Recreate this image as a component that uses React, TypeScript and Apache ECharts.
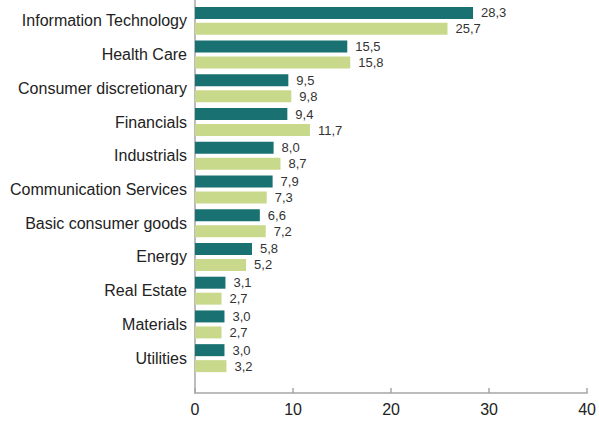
import React, { useEffect, useRef } from "react";
import * as echarts from "echarts";

const categories = [
  "Information Technology",
  "Health Care",
  "Consumer discretionary",
  "Financials",
  "Industrials",
  "Communication Services",
  "Basic consumer goods",
  "Energy",
  "Real Estate",
  "Materials",
  "Utilities",
];
const seriesA = [28.3, 15.5, 9.5, 9.4, 8.0, 7.9, 6.6, 5.8, 3.1, 3.0, 3.0];
const seriesB = [25.7, 15.8, 9.8, 11.7, 8.7, 7.3, 7.2, 5.2, 2.7, 2.7, 3.2];
const xTicks = { min: 0, max: 40, interval: 10 };

const FONT = "'Liberation Sans', Arial, sans-serif";
const fmt = (v: number) => v.toFixed(1).replace(".", ",");

export default function App() {
  const ref = useRef<HTMLDivElement>(null);
  useEffect(() => {
    document.body.style.margin = "0";
    if (!ref.current) return;
    const chart = echarts.init(ref.current, undefined, { renderer: "svg" });
    const axisColor = "#a6a6a6";
    const label = {
      show: true,
      position: "right" as const,
      distance: 8,
      color: "#333",
      fontSize: 13,
      fontFamily: FONT,
      formatter: (p: any) => fmt(p.value),
    };
    chart.setOption({
      animation: false,
      textStyle: { fontFamily: FONT },
      grid: [
        { left: 195, right: 11, top: 4, bottom: 46 },
        { left: 195, right: 11, top: 0, bottom: 28 },
      ],
      xAxis: [
        {
          gridIndex: 0,
          type: "value",
          ...xTicks,
          show: false,
          splitLine: { show: false },
        },
        {
          gridIndex: 1,
          type: "value",
          ...xTicks,
          axisLine: { show: true, lineStyle: { color: axisColor, width: 1.5 } },
          axisTick: { show: true, inside: true, length: 5, lineStyle: { color: axisColor, width: 1.5 } },
          axisLabel: { color: "#222", fontSize: 16, margin: 8, fontFamily: FONT },
          splitLine: { show: false },
        },
      ],
      yAxis: [
        {
          gridIndex: 0,
          type: "category",
          data: categories,
          inverse: true,
          axisLine: { show: false },
          axisTick: { show: false },
          axisLabel: { color: "#222", fontSize: 16, margin: 8, fontFamily: FONT },
        },
        {
          gridIndex: 1,
          type: "value",
          min: 0,
          max: 1,
          axisLine: { show: true, lineStyle: { color: axisColor, width: 1.5 } },
          axisTick: { show: false },
          axisLabel: { show: false },
          splitLine: { show: false },
        },
      ],
      series: [
        {
          name: "Series A",
          type: "bar",
          xAxisIndex: 0,
          yAxisIndex: 0,
          data: seriesA,
          barWidth: 12,
          barGap: "33%",
          itemStyle: { color: "#1a7171" },
          label,
        },
        {
          name: "Series B",
          type: "bar",
          xAxisIndex: 0,
          yAxisIndex: 0,
          data: seriesB,
          barWidth: 12,
          barGap: "33%",
          itemStyle: { color: "#c9d98b" },
          label,
        },
      ],
    });
    return () => chart.dispose();
  }, []);
  return <div ref={ref} style={{ width: 599, height: 421 }} />;
}
